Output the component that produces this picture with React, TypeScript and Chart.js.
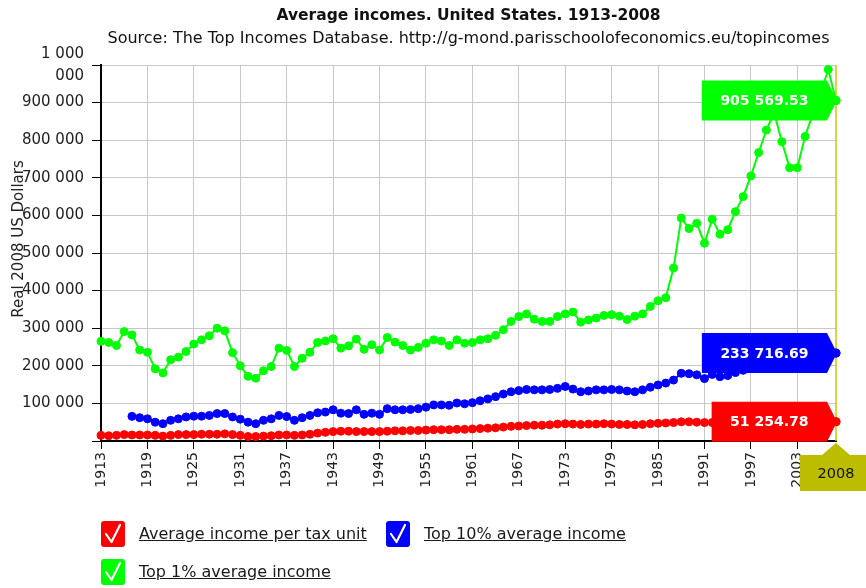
import React, { useEffect, useRef } from "react";
import { Chart, registerables } from "chart.js";

Chart.register(...registerables);

const years = [
  "1913","1914","1915","1916","1917","1918","1919","1920","1921","1922",
  "1923","1924","1925","1926","1927","1928","1929","1930","1931","1932",
  "1933","1934","1935","1936","1937","1938","1939","1940","1941","1942",
  "1943","1944","1945","1946","1947","1948","1949","1950","1951","1952",
  "1953","1954","1955","1956","1957","1958","1959","1960","1961","1962",
  "1963","1964","1965","1966","1967","1968","1969","1970","1971","1972",
  "1973","1974","1975","1976","1977","1978","1979","1980","1981","1982",
  "1983","1984","1985","1986","1987","1988","1989","1990","1991","1992",
  "1993","1994","1995","1996","1997","1998","1999","2000","2001","2002",
  "2003","2004","2005","2006","2007","2008",
];

const xTickLabels = [
  "1913","1919","1925","1931","1937","1943","1949","1955",
  "1961","1967","1973","1979","1985","1991","1997","2003",
];

const yTickLabels: (string | string[])[] = [
  "", "100 000", "200 000", "300 000", "400 000", "500 000",
  "600 000", "700 000", "800 000", "900 000", ["1 000", "000"],
];

const averageIncome = [
  15000,14000,15000,17000,16000,16000,16000,15000,13000,15000,
  17000,17000,17000,18000,18000,18000,19000,17000,15000,12000,
  12000,13000,14000,16000,16000,15000,16000,18000,21000,23000,
  25000,26000,26000,25000,25000,25000,25000,26000,27000,27000,
  28000,28000,29000,30000,30000,30000,31000,31000,32000,33000,
  34000,35000,37000,39000,40000,41000,42000,42000,43000,45000,
  46000,45000,44000,45000,45000,46000,45000,44000,44000,43000,
  44000,46000,47000,48000,49000,51000,51000,50000,49000,49000,
  49000,49000,50000,51000,53000,55000,56000,57000,55000,53000,
  52000,53000,54000,55000,55000,51254.78,
];

const top10Income = [
  null,null,null,null,65500,62000,59000,50000,46000,55000,
  59000,64000,66000,66000,68000,73000,73000,64000,58000,50000,
  46000,55000,59000,68000,65000,55000,62000,68000,75000,77000,
  83000,74000,73000,83000,71000,74000,71000,86000,83000,83000,
  84000,86000,90000,96000,96000,95000,101000,99000,102000,107000,
  112000,118000,125000,131000,134000,137000,136000,136000,137000,140000,
  145000,138000,131000,133000,136000,136000,137000,136000,133000,131000,
  136000,143000,149000,154000,162000,180000,179000,176000,166000,177000,
  171000,174000,182000,188000,198000,208000,217000,225000,212000,200000,
  203000,215000,228000,238000,246000,233716.69,
];

const top1Income = [
  265000,262000,254000,291000,282000,242000,236000,192000,181000,216000,
  223000,238000,258000,269000,280000,300000,293000,235000,200000,172000,
  167000,187000,198000,247000,241000,198000,220000,236000,262000,266000,
  272000,247000,253000,271000,244000,256000,242000,275000,263000,254000,
  242000,249000,260000,269000,266000,254000,269000,260000,262000,269000,
  272000,281000,296000,318000,331000,338000,324000,318000,318000,331000,
  338000,343000,316000,322000,327000,334000,336000,332000,323000,332000,
  338000,358000,373000,381000,460000,593000,565000,579000,526000,590000,
  550000,562000,610000,650000,705000,767000,827000,873000,796000,727000,
  727000,810000,870000,925000,988000,905569.53,
];

const seriesNames = ["Average income per tax unit", "Top 10% average income", "Top 1% average income"];
const seriesColors = ["#ff0000", "#0000ff", "#00ff00"];

const FONT = "'DejaVu Sans', sans-serif";

function fmtValue(v: number): string {
  const [i, d] = v.toFixed(2).split(".");
  return i.replace(/\B(?=(\d{3})+(?!\d))/g, " ") + "." + d;
}

const overlayPlugin = {
  id: "overlay",
  beforeDatasetsDraw(chart: any) {
    const { ctx, chartArea } = chart;
    const x = chart.scales.x.getPixelForValue(years.length - 1);
    ctx.save();
    ctx.strokeStyle = "#c9c900";
    ctx.lineWidth = 1.5;
    ctx.beginPath();
    ctx.moveTo(x, chartArea.top);
    ctx.lineTo(x, chartArea.bottom);
    ctx.stroke();
    ctx.restore();
  },
  afterDatasetsDraw(chart: any) {
    const { ctx } = chart;
    ctx.save();
    ctx.font = `bold 14px ${FONT}`;
    chart.data.datasets.forEach((ds: any, di: number) => {
      const meta = chart.getDatasetMeta(di);
      const last = meta.data[meta.data.length - 1];
      const v = ds.data[ds.data.length - 1];
      const px = last.x;
      const py = last.y;
      const text = fmtValue(v);
      const tw = ctx.measureText(text).width;
      const R = px - 9;
      const W = tw + 37;
      const L = R - W;
      const T = py - 20;
      const B = py + 20;
      ctx.fillStyle = ds.borderColor;
      ctx.beginPath();
      ctx.moveTo(L, T);
      ctx.lineTo(R, T);
      ctx.lineTo(px + 1, py);
      ctx.lineTo(R, B);
      ctx.lineTo(L, B);
      ctx.closePath();
      ctx.fill();
      ctx.beginPath();
      ctx.arc(px, py, 4.5, 0, Math.PI * 2);
      ctx.fill();
      ctx.fillStyle = "#ffffff";
      ctx.textAlign = "center";
      ctx.textBaseline = "middle";
      ctx.fillText(text, (L + R) / 2, py + 1);
    });
    ctx.restore();
  },
  afterDraw(chart: any) {
    const { ctx, chartArea } = chart;
    const cx = (chartArea.left + chartArea.right) / 2;
    ctx.save();
    ctx.fillStyle = "#111";
    ctx.textAlign = "center";
    ctx.textBaseline = "alphabetic";
    ctx.font = `bold 15.5px ${FONT}`;
    ctx.fillText("Average incomes. United States. 1913-2008", cx, 20);
    ctx.font = `16px ${FONT}`;
    ctx.fillText("Source: The Top Incomes Database. http://g-mond.parisschoolofeconomics.eu/topincomes", cx, 43);

    // y-axis title
    ctx.save();
    ctx.translate(19, 239);
    ctx.rotate(-Math.PI / 2);
    ctx.font = `15px ${FONT}`;
    ctx.fillStyle = "#222";
    ctx.textBaseline = "middle";
    ctx.fillText("Real 2008 US Dollars", 0, 0);
    ctx.restore();

    // 2008 marker
    const x = chart.scales.x.getPixelForValue(years.length - 1);
    const yb = chartArea.bottom;
    ctx.fillStyle = "#bdbd00";
    ctx.beginPath();
    ctx.moveTo(x - 14, yb + 14);
    ctx.lineTo(x, yb + 2);
    ctx.lineTo(x + 14, yb + 14);
    ctx.closePath();
    ctx.fill();
    ctx.fillRect(x - 36, yb + 14, 70, 36);
    ctx.fillStyle = "#111";
    ctx.font = `14.5px ${FONT}`;
    ctx.textBaseline = "middle";
    ctx.fillText(years[years.length - 1], x, yb + 33);
    ctx.restore();
  },
};

function CheckBox({ color }: { color: string }) {
  return (
    <div
      style={{
        width: 24,
        height: 26,
        background: color,
        borderRadius: 3,
        position: "absolute",
        left: 0,
        top: 0,
      }}
    >
      <svg width="24" height="26" viewBox="0 0 24 26" style={{ display: "block" }}>
        <polyline
          points="5,13 10.5,21 19,4"
          fill="none"
          stroke="#ffffff"
          strokeWidth="2.2"
          strokeLinecap="round"
          strokeLinejoin="round"
        />
      </svg>
    </div>
  );
}

function LegendItem({ left, top, color, label }: { left: number; top: number; color: string; label: string }) {
  return (
    <div style={{ position: "absolute", left, top, height: 26 }}>
      <CheckBox color={color} />
      <span
        style={{
          position: "absolute",
          left: 38,
          top: 3,
          whiteSpace: "nowrap",
          fontFamily: FONT,
          fontSize: 16,
          color: "#1a1a1a",
          textDecoration: "underline",
          lineHeight: "20px",
        }}
      >
        {label}
      </span>
    </div>
  );
}

export default function App() {
  const canvasRef = useRef<HTMLCanvasElement | null>(null);

  useEffect(() => {
    if (!canvasRef.current) return;
    Chart.defaults.font.family = FONT;
    const chart = new Chart(canvasRef.current, {
      type: "line",
      data: {
        labels: years,
        datasets: [
          { label: seriesNames[0], data: averageIncome },
          { label: seriesNames[1], data: top10Income },
          { label: seriesNames[2], data: top1Income },
        ].map((d, i) => ({
          ...d,
          borderColor: seriesColors[i],
          backgroundColor: seriesColors[i],
          pointBackgroundColor: seriesColors[i],
          pointBorderColor: seriesColors[i],
          pointRadius: 4,
          pointBorderWidth: 1,
          borderWidth: 2,
          tension: 0,
          spanGaps: false,
          fill: false,
        })),
      },
      options: {
        responsive: false,
        animation: false,
        devicePixelRatio: 1,
        events: [],
        layout: { padding: { left: 0, top: 65, right: 30, bottom: 97 } },
        plugins: {
          legend: { display: false },
          title: { display: false },
          tooltip: { enabled: false },
        },
        scales: {
          x: {
            type: "category",
            offset: false,
            afterBuildTicks: (scale: any) => {
              scale.ticks = scale.ticks.filter((t: any) => xTickLabels.includes(years[t.value]));
            },
            afterFit: (scale: any) => {
              scale.height = 50;
            },
            grid: {
              color: "#c8c8c8",
              lineWidth: 1,
              tickColor: "#000",
              tickLength: 8,
              drawOnChartArea: true,
            },
            border: { color: "#000", width: 2 },
            ticks: {
              autoSkip: false,
              minRotation: 90,
              maxRotation: 90,
              padding: 3,
              color: "#222",
              font: { size: 14, family: FONT },
            },
          },
          y: {
            type: "linear",
            min: 0,
            max: 1000000,
            afterFit: (scale: any) => {
              scale.width = 101;
            },
            grid: {
              color: "#c8c8c8",
              lineWidth: 1,
              tickColor: "#000",
              tickLength: 9,
            },
            border: { color: "#000", width: 2 },
            ticks: {
              stepSize: 100000,
              autoSkip: false,
              padding: 8,
              color: "#222",
              font: { size: 15, family: FONT, lineHeight: 1.5 },
              callback: (value: any) => yTickLabels[Math.round(Number(value) / 100000)],
            },
          },
        },
      },
      plugins: [overlayPlugin],
    } as any);
    return () => chart.destroy();
  }, []);

  return (
    <div style={{ position: "absolute", left: 0, top: 0, width: 866, height: 588, background: "#fff" }}>
      <canvas ref={canvasRef} width={866} height={588} style={{ width: 866, height: 588, display: "block" }} />
      <LegendItem left={101} top={521} color={seriesColors[0]} label={seriesNames[0]} />
      <LegendItem left={386} top={521} color={seriesColors[1]} label={seriesNames[1]} />
      <LegendItem left={101} top={559} color={seriesColors[2]} label={seriesNames[2]} />
    </div>
  );
}
